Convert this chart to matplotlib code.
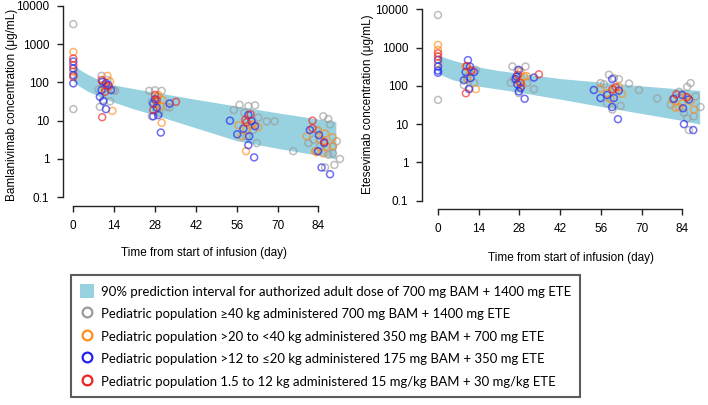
import matplotlib
matplotlib.use('Agg')
import matplotlib.pyplot as plt
import numpy as np
from matplotlib.patches import Patch
from matplotlib.lines import Line2D

# -----------------------90% prediction interval (adult dose)-----------------------
band_day = [0, 2, 5, 10, 14, 21, 28, 42, 56, 70, 84, 90]
bam_upper = [300, 220, 160, 105, 85, 68, 55, 36, 24, 16, 11, 9.5]
bam_lower = [105, 80, 58, 40, 30, 20, 14, 6.5, 3.0, 1.9, 1.25, 1.0]
ete_upper = [650, 560, 470, 370, 310, 250, 215, 155, 125, 100, 82, 76]
ete_lower = [215, 180, 145, 115, 98, 82, 68, 45, 29, 19, 12.5, 10]

# -----------------------observed pediatric data: Bamlanivimab-----------------------
bam_gray_day = [0, 0, 9.7, 11.7, 13.7, 8.7, 10.3, 12.6, 14.3, 9.1,
                26, 28, 30.3, 26.9, 28.6, 32, 33, 29.5, 26.9,
                57, 60, 62.3, 55, 58.6, 63.4, 66.3, 69, 59.4, 62.9, 61.7,
                85.7, 87.4, 88, 90.3, 91.4, 80.6, 82.3, 84.6, 89, 89.5, 86.3, 75.4, 83.4, 89, 87.4]
bam_gray_conc = [3300, 20, 148, 115, 63, 65, 35, 32, 60, 23,
                 60, 62, 60, 31, 19, 23, 22, 16, 13,
                 26, 24, 25, 19, 16, 12, 9.6, 9.6, 3.9, 2.6, 5.7,
                 13, 11, 8, 2.9, 1.0, 2.6, 3.2, 2.2, 1.4, 0.7, 0.6, 1.6, 5.7, 2.1, 1.3]
bam_orange_day = [0, 0, 11.7, 12.6, 10.3, 13.4, 10.9,
                  29.1, 30.6, 28.6, 30, 30.3, 28.8,
                  56.6, 59.4, 61.7, 57.7, 59.2, 60.6, 63.4,
                  80, 84, 86.3, 84.6, 86.9, 82.9, 85.7, 88.9, 89, 83.4]
bam_orange_conc = [620, 190, 148, 105, 85, 18, 70,
                   47, 35, 28, 24, 8.8, 42,
                   7.6, 6, 8, 3.9, 1.6, 7.5, 6.8,
                   3.9, 5.5, 4.6, 3.2, 2.1, 1.6, 1.4, 3.7, 2.2, 1.5]
bam_blue_day = [0, 0, 0, 0, 10, 11.2, 9.7, 12.9, 9.1, 10.3, 11.2, 12,
                27.4, 28.6, 28, 29.1, 27.4, 33, 30,
                53.7, 56.2, 58.3, 60, 61.1, 60.3, 62.3, 60, 62,
                81.1, 84.2, 83.9, 86, 85.1, 88]
bam_blue_conc = [350, 230, 155, 94, 105, 95, 63, 63, 42, 32, 20, 85,
                 28, 22, 36, 14, 13, 28, 4.9,
                 10, 4.4, 6.2, 14, 9.7, 3.9, 7.2, 2.3, 1.1,
                 5.7, 4.2, 1.6, 2.6, 0.6, 0.4]
bam_red_day = [0, 0, 0, 9.7, 12, 9.9, 10.9,
               28, 28.6, 35.2, 27.4,
               59.4, 60.8, 58.9,
               82, 82, 86]
bam_red_conc = [420, 280, 140, 115, 80, 12.3, 57,
                47, 35, 31, 19,
                9.1, 14.6, 10.5,
                10, 6.3, 2.8]

# -----------------------observed pediatric data: Etesevimab-----------------------
ete_gray_day = [0, 0, 13, 10.1, 12.4, 8.9, 10.7,
                25.6, 27.3, 30.1, 26.1, 25, 27.8, 33, 30.7,
                58.8, 60.5, 62.2, 55.9, 57.1, 58.2, 62.8, 65.7, 69.1, 60,
                86.9, 85.7, 82.9, 81.1, 80, 88.6, 90.3, 85.7, 88, 84.6, 86.3, 75.4]
ete_gray_conc = [7100, 43, 260, 175, 120, 105, 87,
                 320, 260, 320, 150, 120, 65, 82, 120,
                 195, 160, 150, 118, 110, 35, 30, 115, 78, 24,
                 118, 94, 70, 44, 32, 53, 28, 14, 16, 20, 7, 47]
ete_orange_day = [0, 0, 0, 9.5, 11.2, 13, 10.1,
                  28.4, 29.6, 27.8, 28.9, 30.5,
                  55.9, 58.2, 60.5, 62.2, 59.4, 63.3,
                  80.6, 82.9, 85.2, 86.9, 84, 88, 81.7]
ete_orange_conc = [1170, 870, 390, 320, 240, 82, 150,
                   240, 175, 130, 100, 180,
                   85, 64, 78, 95, 45, 62,
                   44, 28, 53, 40, 35, 24, 27]
ete_blue_day = [0, 0, 0, 0, 10.3, 9.5, 12.4, 11.2, 8.9, 10.7, 11,
                27, 27.8, 27.3, 28.4, 27.8, 29.8, 33, 26.7,
                53.6, 55.9, 59.9, 58.2, 60.5, 62.2, 59.9, 61.9,
                81.1, 84, 86.3, 84.3, 84.6, 87.8]
ete_blue_conc = [480, 320, 250, 220, 470, 230, 230, 160, 140, 82, 320,
                 175, 260, 110, 88, 72, 46, 165, 150,
                 78, 48, 150, 58, 48, 75, 28, 13.5,
                 46, 58, 44, 26, 10, 7]
ete_red_day = [0, 0, 9.9, 11.5, 9.6,
               27.5, 34.7, 28.4,
               61.1, 60,
               82, 85.7]
ete_red_conc = [710, 585, 330, 250, 64,
                194, 200, 118,
                93, 82,
                60, 50]

legend_labels = ['90% prediction interval for authorized adult dose of 700 mg BAM + 1400 mg ETE',
                 'Pediatric population \u226540 kg administered 700 mg BAM + 1400 mg ETE',
                 'Pediatric population >20 to <40 kg administered 350 mg BAM + 700 mg ETE',
                 'Pediatric population >12 to \u226420 kg administered 175 mg BAM + 350 mg ETE',
                 'Pediatric population 1.5 to 12 kg administered 15 mg/kg BAM + 30 mg/kg ETE']

# -----------------------Fig configuration-----------------------
plt.rcParams['font.family'] = ['Liberation Sans', 'DejaVu Sans']
W, H = 708, 405
fig = plt.figure(figsize=(W / 100, H / 100), dpi=100)
band_color = '#98d1df'
gray = '#9a9a9a'
orange = '#ff8c1a'
blue = '#2222ee'
red = '#ee2222'
x_ticks = [0, 14, 28, 42, 56, 70, 84]
y_ticks = [0.1, 1, 10, 100, 1000, 10000]
y_tick_labels = ['0.1', '1', '10', '100', '1000', '10000']


def px_axes(left, top, right, bottom):
    return fig.add_axes([left / W, 1 - bottom / H, (right - left) / W, (bottom - top) / H])


def draw_panel(ax, xlim, ylim, upper, lower, groups, ylabel):
    ax.fill_between(band_day, lower, upper, color=band_color, linewidth=0)
    for d, c, col in groups:
        ax.scatter(d, c, s=25, facecolors='none', edgecolors=col, linewidths=1.1, alpha=0.65, zorder=3)
    ax.set_yscale('log')
    ax.set_xlim(*xlim)
    ax.set_ylim(*ylim)
    ax.spines['top'].set_visible(False)
    ax.spines['right'].set_visible(False)
    ax.spines['left'].set_bounds(0.1, 10000)
    ax.spines['bottom'].set_bounds(0, 84)
    for s in ['left', 'bottom']:
        ax.spines[s].set_linewidth(1.0)
        ax.spines[s].set_color('#222222')
    ax.set_xticks(x_ticks)
    ax.set_xticklabels([str(t) for t in x_ticks], fontsize=8.5)
    ax.set_yticks(y_ticks)
    ax.set_yticklabels(y_tick_labels, fontsize=8.5)
    ax.yaxis.set_minor_locator(matplotlib.ticker.NullLocator())
    ax.tick_params(axis='both', length=4, width=1.0, color='#222222', pad=6)
    ax.set_facecolor('none')
    ax.set_ylabel(ylabel, fontsize=8.5)
    ax.set_xlabel('Time from start of infusion (day)', fontsize=8.5)


# left panel: bamlanivimab
ax1 = px_axes(63.3, 0, 344.6, 206)
draw_panel(ax1, (-3.43, 93), (10 ** -1.227, 10 ** 4.149), bam_upper, bam_lower,
           [(bam_gray_day, bam_gray_conc, gray), (bam_orange_day, bam_orange_conc, orange),
            (bam_blue_day, bam_blue_conc, blue), (bam_red_day, bam_red_conc, red)],
           'Bamlanivimab concentration (\u03bcg/mL)')
ax1.yaxis.set_label_coords(-(63.3 - 18) / 281.3, 0.49)
ax1.xaxis.set_label_coords(0.5, -41 / 206)

# right panel: etesevimab
ax2 = px_axes(422.3, 0, 707.5, 209)
draw_panel(ax2, (-5.4, 92.7), (10 ** -1.217, 10 ** 4.243), ete_upper, ete_lower,
           [(ete_gray_day, ete_gray_conc, gray), (ete_orange_day, ete_orange_conc, orange),
            (ete_blue_day, ete_blue_conc, blue), (ete_red_day, ete_red_conc, red)],
           'Etesevimab concentration (\u03bcg/mL)')
ax2.yaxis.set_label_coords(-(422.3 - 374) / 285.2, 0.50)
ax2.xaxis.set_label_coords(0.52, -43 / 209)

# legend
handles = [Patch(facecolor=band_color, edgecolor='none')]
for col in [gray, orange, blue, red]:
    handles.append(Line2D([], [], linestyle='none', marker='o', markersize=7,
                          markerfacecolor='none', markeredgecolor=col, markeredgewidth=1.6))
leg = fig.legend(handles, legend_labels, loc='upper left', bbox_to_anchor=(71 / W, 1 - 275 / H),
                 prop={'family': ['Lato', 'DejaVu Sans'], 'size': 9.45}, frameon=True, fancybox=False,
                 handlelength=1.05, handleheight=1.3, handletextpad=0.5, labelspacing=0.62,
                 borderpad=0.7, borderaxespad=0)
leg.get_frame().set_edgecolor('#333333')
leg.get_frame().set_linewidth(1.5)

fig.savefig('out.png', dpi=100)
